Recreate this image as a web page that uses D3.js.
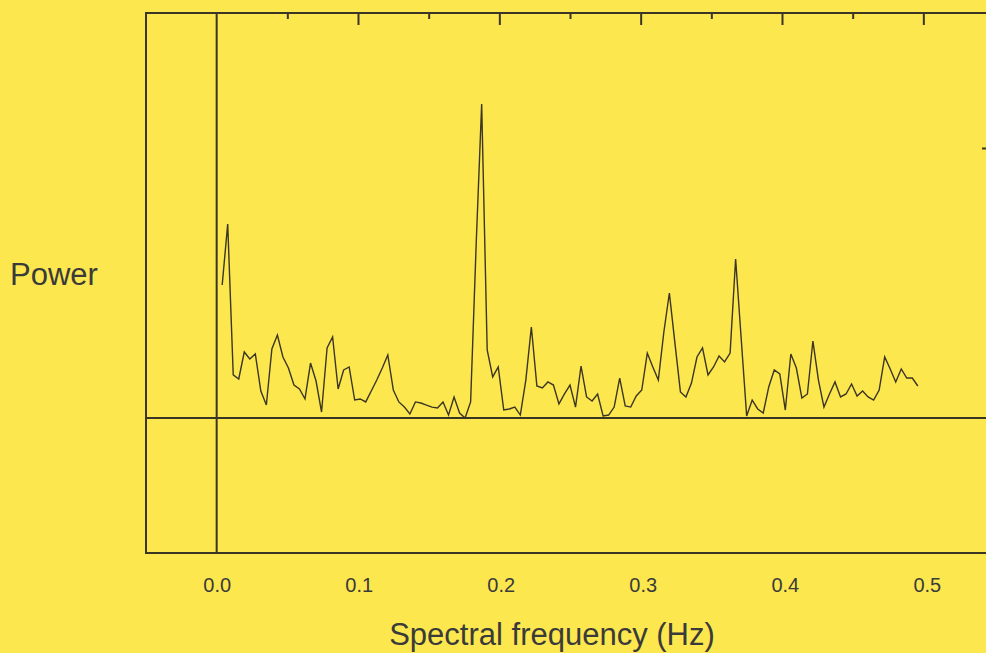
<!DOCTYPE html>
<html>
<head>
<meta charset="utf-8">
<script src="https://cdn.jsdelivr.net/npm/d3@7"></script>
<style>
  html, body { margin: 0; padding: 0; background: #fce74e; }
  svg { display: block; }
</style>
</head>
<body>
<svg id="chart"></svg>
<script>
// Espectro de potencia: 127 valores, un valor por cada bin de frecuencia (k/256 Hz)
const binWidth = 1 / 256;
const power = [
  0.985, 1.437, 0.319, 0.289, 0.489, 0.437, 0.474, 0.200, 0.096, 0.511,
  0.615, 0.452, 0.370, 0.244, 0.215, 0.141, 0.407, 0.274, 0.044, 0.519,
  0.600, 0.215, 0.356, 0.378, 0.133, 0.141, 0.119, 0.200, 0.281, 0.370,
  0.467, 0.207, 0.119, 0.081, 0.030, 0.119, 0.111, 0.096, 0.081, 0.074,
  0.119, 0.022, 0.156, 0.037, 0.000, 0.119, 1.281, 2.326, 0.504, 0.304,
  0.378, 0.059, 0.067, 0.081, 0.022, 0.281, 0.674, 0.237, 0.222, 0.267,
  0.244, 0.104, 0.178, 0.244, 0.081, 0.385, 0.156, 0.126, 0.178, 0.015,
  0.022, 0.081, 0.296, 0.089, 0.081, 0.163, 0.207, 0.481, 0.378, 0.281,
  0.637, 0.926, 0.556, 0.193, 0.156, 0.259, 0.452, 0.519, 0.319, 0.378,
  0.459, 0.415, 0.481, 1.178, 0.593, 0.015, 0.133, 0.067, 0.037, 0.230,
  0.356, 0.326, 0.059, 0.474, 0.370, 0.148, 0.178, 0.570, 0.281, 0.081,
  0.178, 0.267, 0.156, 0.178, 0.252, 0.163, 0.200, 0.156, 0.133, 0.207,
  0.452, 0.363, 0.267, 0.363, 0.296, 0.296, 0.237
];

// etiquetas del eje x y marcas de arriba
const xTickLabels = [0.0, 0.1, 0.2, 0.3, 0.4, 0.5];
const topMajorTicks = [0.1, 0.2, 0.3, 0.4, 0.5];
const topMinorTicks = [0.05, 0.15, 0.25, 0.35, 0.45];
const rightTicks = [2];

const width = 986;
const height = 653;
const ink = "#3b3524";

const svg = d3.select("#chart")
    .attr("width", width)
    .attr("height", height);

// escalas
const x = d3.scaleLinear().domain([-0.05, 0.55]).range([146, 994]);
const y = d3.scaleLinear().domain([-1, 3]).range([553, 13]);

const data = power.map((p, i) => ({ f: (i + 1) * binWidth, p: p }));

// marco del gráfico
svg.append("rect")
    .attr("x", x(-0.05))
    .attr("y", y(3))
    .attr("width", x(0.55) - x(-0.05))
    .attr("height", y(-1) - y(3))
    .attr("fill", "none")
    .attr("stroke", ink)
    .attr("stroke-width", 2);

// ejes en cero
svg.append("line")
    .attr("x1", x(0)).attr("x2", x(0))
    .attr("y1", y(3)).attr("y2", y(-1))
    .attr("stroke", ink).attr("stroke-width", 2);

svg.append("line")
    .attr("x1", x(-0.05)).attr("x2", x(0.55))
    .attr("y1", y(0)).attr("y2", y(0))
    .attr("stroke", ink).attr("stroke-width", 2);

// marcas del borde superior (hacia adentro)
const topAxis = svg.append("g")
    .attr("transform", `translate(0,${y(3)})`);

topAxis.append("g")
    .call(d3.axisTop(x).tickValues(topMajorTicks).tickSize(-12).tickFormat(""))
    .call(g => g.select(".domain").remove());

topAxis.append("g")
    .call(d3.axisTop(x).tickValues(topMinorTicks).tickSize(-6).tickFormat(""))
    .call(g => g.select(".domain").remove());

topAxis.selectAll(".tick line")
    .attr("stroke", ink)
    .attr("stroke-width", 2);

// marca del borde derecho
svg.append("g")
    .attr("transform", `translate(${x(0.55)},0)`)
    .call(d3.axisRight(y).tickValues(rightTicks).tickSize(-12).tickFormat(""))
    .call(g => g.select(".domain").remove())
    .selectAll(".tick line")
    .attr("stroke", ink)
    .attr("stroke-width", 2);

// etiquetas de frecuencia debajo del marco (un poco corridas a la derecha, como el original)
svg.append("g")
    .attr("transform", `translate(0,${y(-1)})`)
    .call(d3.axisBottom(x).tickValues(xTickLabels).tickSize(0).tickPadding(25).tickFormat(d3.format(".1f")))
    .call(g => g.select(".domain").remove())
    .selectAll("text")
    .attr("dx", (d, i) => i * 0.7)
    .attr("fill", "#3a3a3a")
    .attr("font-family", "Liberation Sans, Arial, sans-serif")
    .attr("font-size", 20);

// la curva del espectro
const line = d3.line()
    .x(d => x(d.f))
    .y(d => y(d.p));

svg.append("path")
    .datum(data)
    .attr("d", line)
    .attr("fill", "none")
    .attr("stroke", ink)
    .attr("stroke-width", 1.4)
    .attr("stroke-linejoin", "miter");

// titulos
svg.append("text")
    .attr("x", 54)
    .attr("y", 285)
    .attr("text-anchor", "middle")
    .attr("fill", "#3a3a3a")
    .attr("font-family", "Liberation Sans, Arial, sans-serif")
    .attr("font-size", 31)
    .text("Power");

svg.append("text")
    .attr("x", 552)
    .attr("y", 645)
    .attr("text-anchor", "middle")
    .attr("fill", "#3a3a3a")
    .attr("font-family", "Liberation Sans, Arial, sans-serif")
    .attr("font-size", 31)
    .text("Spectral frequency (Hz)");
</script>
</body>
</html>
